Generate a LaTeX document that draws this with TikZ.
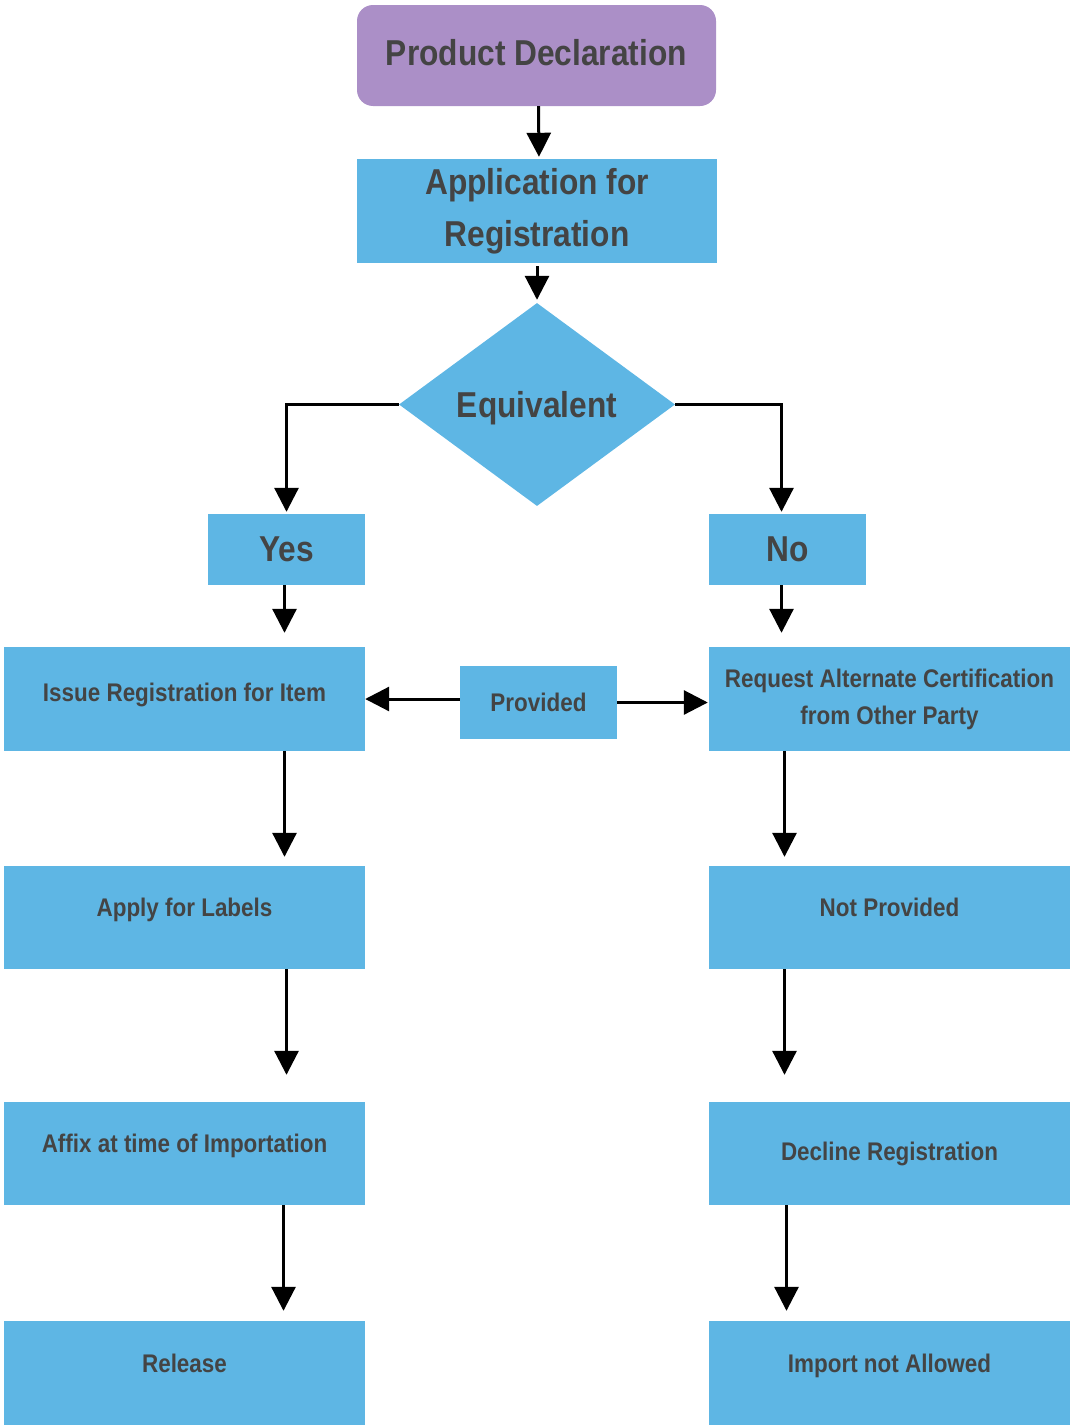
\documentclass[tikz,border=0pt]{standalone}
\usepackage{fontspec}
\setmainfont[FakeStretch=0.88]{Liberation Sans}
\usetikzlibrary{arrows.meta,shapes.geometric}
\definecolor{pur}{HTML}{AB8FC7}
\definecolor{blu}{HTML}{5EB6E4}
\definecolor{txt}{HTML}{444444}
\begin{document}
\begin{tikzpicture}[x=1pt,y=-1pt,
  box/.style={fill=blu,draw=none,inner sep=0pt,text=txt,font=\bfseries\fontsize{25.5}{37}\selectfont,align=center},
  bigbox/.style={box,font=\bfseries\fontsize{36}{52}\selectfont},
  txtup/.style={text depth=20pt},
  arr/.style={-{Triangle[width=24pt,length=24pt]},line width=3pt,black}]
\useasboundingbox (0,0) rectangle (1075,1427);
% nodes
\node[bigbox,fill=pur,rounded corners=16pt,minimum width=359pt,minimum height=101pt,text depth=6pt] (pd) at (536.5,55.5) {Product Declaration};
\node[bigbox,minimum width=360pt,minimum height=104pt] (app) at (537,211) {Application for\\Registration};
\node[bigbox,shape=diamond,minimum width=276pt,minimum height=203pt,text depth=0pt] (eq) at (537,404.5) {Equivalent};
\node[bigbox,minimum width=157pt,minimum height=71pt] (yes) at (286.5,549.5) {Yes};
\node[bigbox,minimum width=157pt,minimum height=71pt] (no) at (787.5,549.5) {No};
\node[box,minimum width=361pt,minimum height=104pt,text depth=14pt] (issue) at (184.5,699) {Issue Registration for Item};
\node[box,minimum width=157pt,minimum height=73pt] (prov) at (538.5,702.5) {Provided};
\node[box,minimum width=361pt,minimum height=104pt] (req) at (889.5,699) {Request Alternate Certification\\from Other Party};
\node[box,txtup,minimum width=361pt,minimum height=103pt] (apply) at (184.5,917.5) {Apply for Labels};
\node[box,txtup,minimum width=361pt,minimum height=103pt] (notp) at (889.5,917.5) {Not Provided};
\node[box,txtup,minimum width=361pt,minimum height=103pt] (affix) at (184.5,1153.5) {Affix at time of Importation};
\node[box,minimum width=361pt,minimum height=103pt] (decl) at (889.5,1153.5) {Decline Registration};
\node[box,txtup,minimum width=361pt,minimum height=104pt] (rel) at (184.5,1373) {Release};
\node[box,txtup,minimum width=361pt,minimum height=104pt] (imp) at (889.5,1373) {Import not Allowed};
% connectors
\draw[arr,shorten >=2pt] ([xshift=2pt]pd.south) -- ([xshift=2pt]app.north);
\draw[arr,shorten <=3pt,shorten >=3pt] (app.south) -- (eq.north);
\draw[arr,shorten >=2pt] (eq.west) -| (yes.north);
\draw[arr,shorten >=2pt] (eq.east) -| ([xshift=-6pt]no.north);
\draw[arr,shorten >=14pt] ([xshift=-2pt]yes.south) -- ([xshift=-2pt]yes.south |- issue.north);
\draw[arr,shorten >=14pt] ([xshift=-6pt]no.south) -- ([xshift=-6pt]no.south |- req.north);
\draw[arr] (prov.west |- issue.east) -- (issue.east);
\draw[arr,shorten >=1pt] (prov.east) -- (prov.east -| req.west);
\draw[arr,shorten >=9pt] ([xshift=-2pt]issue.south -| yes.south) -- ([xshift=-2pt]apply.north -| yes.south);
\draw[arr,shorten >=9pt] ([xshift=-3pt]req.south -| no.south) -- ([xshift=-3pt]notp.north -| no.south);
\draw[arr,shorten >=27pt] (apply.south -| yes.south) -- (affix.north -| yes.south);
\draw[arr,shorten >=27pt] ([xshift=-3pt]notp.south -| no.south) -- ([xshift=-3pt]decl.north -| no.south);
\draw[arr,shorten >=10pt] ([xshift=-3pt]affix.south -| yes.south) -- ([xshift=-3pt]rel.north -| yes.south);
\draw[arr,shorten >=10pt] ([xshift=-1pt]decl.south -| no.south) -- ([xshift=-1pt]imp.north -| no.south);
\end{tikzpicture}
\end{document}
